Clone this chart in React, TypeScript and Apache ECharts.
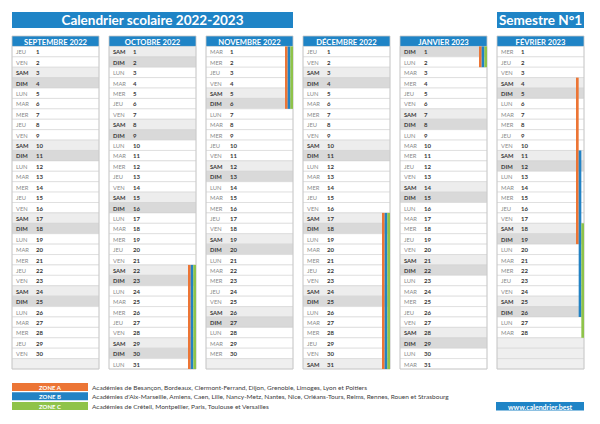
import React, { useEffect, useRef } from "react";
import * as echarts from "echarts";

const months = ["SEPTEMBRE 2022", "OCTOBRE 2022", "NOVEMBRE 2022", "DÉCEMBRE 2022", "JANVIER 2023", "FÉVRIER 2023"];
const monthDays = [30, 31, 30, 31, 31, 28];
const firstWeekday = [3, 5, 1, 3, 6, 2]; // index in dayNames
const dayNames = ["LUN", "MAR", "MER", "JEU", "VEN", "SAM", "DIM"];
// [monthIndex, firstDay, lastDay]
const zoneA = [[1, 22, 31], [2, 1, 6], [3, 17, 31], [4, 1, 2], [5, 4, 19]];
const zoneB = [[1, 22, 31], [2, 1, 6], [3, 17, 31], [4, 1, 2], [5, 11, 26]];
const zoneC = [[1, 22, 31], [2, 1, 6], [3, 17, 31], [4, 1, 2], [5, 18, 28]];
const zoneNames = ["ZONE A", "ZONE B", "ZONE C"];
const zoneTexts = [
  "Académies de Besançon, Bordeaux, Clermont-Ferrand, Dijon, Grenoble, Limoges, Lyon et Poitiers",
  "Académies d'Aix-Marseille, Amiens, Caen, Lille, Nancy-Metz, Nantes, Nice, Orléans-Tours, Reims, Rennes, Rouen et Strasbourg",
  "Académies de Créteil, Montpellier, Paris, Toulouse et Versailles",
];
const title = "Calendrier scolaire 2022-2023";
const semester = "Semestre N°1";
const website = "www.calendrier.best";

const BLUE = "#1f84c6";
const ZONE_COLORS = ["#ec7535", "#2282c4", "#8fc34a"];
const FONT = "Lato, 'Open Sans', sans-serif";
const COL_FRAC = 87 / 97;

type Cell = { col: number; row: number; kind: string; label?: string; num?: string };

function buildCells(): Cell[] {
  const cells: Cell[] = [];
  months.forEach((m, c) => {
    cells.push({ col: c, row: 0, kind: "header", label: m });
    for (let d = 1; d <= 31; d++) {
      if (d <= monthDays[c]) {
        const wd = (firstWeekday[c] + d - 1) % 7;
        const kind = wd === 5 ? "sam" : wd === 6 ? "dim" : "day";
        cells.push({ col: c, row: d, kind, label: dayNames[wd], num: String(d) });
      } else {
        cells.push({ col: c, row: d, kind: "empty" });
      }
    }
  });
  months.forEach((m, c) => cells.push({ col: c, row: 0, kind: "frame" }));
  return cells;
}

export default function App() {
  const ref = useRef<HTMLDivElement>(null);
  useEffect(() => {
    document.body.style.margin = "0";
    const chart = echarts.init(ref.current!, null, { renderer: "svg" });
    const cells = buildCells();
    const stripes: number[][] = [];
    [zoneA, zoneB, zoneC].forEach((z, zi) => z.forEach(([m, s, e]) => stripes.push([m, zi, s, e])));

    const fills: Record<string, string> = { day: "#ffffff", sam: "#ededed", dim: "#d9d9d9", empty: "#efefef" };

    const graphics: any[] = [
      { type: "rect", shape: { x: 12, y: 12, width: 281, height: 16 }, style: { fill: BLUE } },
      { type: "text", x: 152.5, y: 20.3, style: { text: title, fill: "#fff", font: `bold 13.5px ${FONT}`, align: "center", verticalAlign: "middle" } },
      { type: "rect", shape: { x: 497, y: 12, width: 87, height: 16 }, style: { fill: BLUE } },
      { type: "text", x: 540.5, y: 20.3, style: { text: semester, fill: "#fff", font: `bold 13.5px ${FONT}`, align: "center", verticalAlign: "middle" } },
      { type: "rect", shape: { x: 496, y: 402, width: 88, height: 8.5 }, style: { fill: BLUE } },
      { type: "text", x: 540, y: 406.5, style: { text: website, fill: "#fff", font: `bold 7px ${FONT}`, align: "center", verticalAlign: "middle" } },
    ];
    const legendY = [383, 392.3, 402];
    zoneNames.forEach((z, i) => {
      graphics.push({ type: "rect", shape: { x: 12, y: legendY[i], width: 76, height: 8 }, style: { fill: ZONE_COLORS[i] } });
      graphics.push({ type: "text", x: 50, y: legendY[i] + 4.2, style: { text: z, fill: "#fff", font: `bold 6px ${FONT}`, align: "center", verticalAlign: "middle" } });
      graphics.push({ type: "text", x: 92, y: legendY[i] + 4.2, style: { text: zoneTexts[i], fill: "#404040", font: `6.5px ${FONT}`, align: "left", verticalAlign: "middle" } });
    });

    chart.setOption({
      animation: false,
      backgroundColor: "#ffffff",
      grid: { left: 12, top: 36, width: 582, height: 333 },
      xAxis: { type: "value", min: 0, max: 6, show: false },
      yAxis: { type: "value", min: 0, max: 32, inverse: true, show: false },
      graphic: graphics,
      series: [
        {
          type: "custom",
          data: cells.map((c) => [c.col, c.row]),
          renderItem: (params: any, api: any) => {
            const c = cells[params.dataIndex];
            const p = api.coord([c.col, c.row]);
            const size = api.size([1, 1]);
            const w = size[0] * COL_FRAC;
            const h = size[1];
            const x = p[0];
            const y = p[1];
            if (c.kind === "frame") {
              return { type: "rect", shape: { x, y, width: w, height: h * 32 }, style: { fill: "none", stroke: "#c6c6c6", lineWidth: 0.8 } };
            }
            if (c.kind === "header") {
              return {
                type: "group",
                children: [
                  { type: "rect", shape: { x, y, width: w, height: h }, style: { fill: BLUE } },
                  { type: "text", x: x + w / 2, y: y + h / 2 + 0.4, style: { text: c.label, fill: "#fff", font: `bold 7.6px ${FONT}`, align: "center", verticalAlign: "middle" } },
                ],
              };
            }
            const children: any[] = [
              { type: "rect", shape: { x, y, width: w, height: h }, style: { fill: fills[c.kind], stroke: "#d3d3d3", lineWidth: 0.6 } },
            ];
            if (c.kind !== "empty") {
              const weekend = c.kind === "sam" || c.kind === "dim";
              children.push({ type: "text", x: x + 4, y: y + h / 2 + 0.3, style: { text: c.label, fill: weekend ? "#3a3a3a" : "#8a8a8a", font: `${weekend ? "bold " : ""}5.8px ${FONT}`, align: "left", verticalAlign: "middle" } });
              children.push({ type: "text", x: x + 24, y: y + h / 2 + 0.3, style: { text: c.num, fill: "#3a3a3a", font: `bold 6px ${FONT}`, align: "left", verticalAlign: "middle" } });
            }
            return { type: "group", children };
          },
        },
        {
          type: "custom",
          z: 5,
          data: stripes,
          renderItem: (params: any, api: any) => {
            const col = api.value(0);
            const zi = api.value(1);
            const s = api.value(2);
            const e = api.value(3);
            const top = api.coord([col, s]);
            const bot = api.coord([col, e + 1]);
            const w = api.size([1, 1])[0] * COL_FRAC;
            const sw = 8 / 3;
            return {
              type: "rect",
              shape: { x: top[0] + w - 8 + zi * sw, y: top[1], width: sw, height: bot[1] - top[1] },
              style: { fill: ZONE_COLORS[zi] },
            };
          },
        },
      ],
    });
    return () => chart.dispose();
  }, []);
  return <div ref={ref} style={{ width: 600, height: 424 }} />;
}
